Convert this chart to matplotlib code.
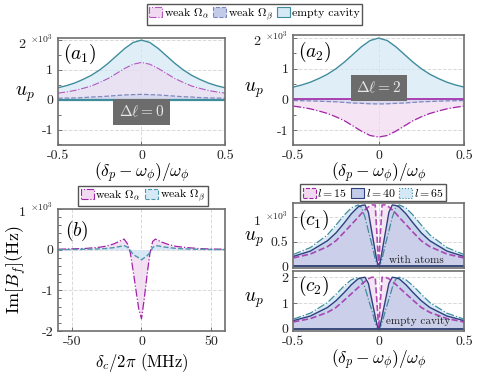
import matplotlib
matplotlib.use('Agg')
import matplotlib.pyplot as plt
from matplotlib.patches import Patch
from matplotlib.ticker import MultipleLocator

plt.rcParams['font.family'] = ['cmr10']
plt.rcParams['mathtext.fontset'] = 'cm'
plt.rcParams['axes.unicode_minus'] = False
plt.rcParams['axes.formatter.use_mathtext'] = True

# ---- data (units of 10^3) ----
x_a = [-0.5, -0.45, -0.4, -0.35, -0.3, -0.25, -0.2, -0.15, -0.1, -0.05, 0,
       0.05, 0.1, 0.15, 0.2, 0.25, 0.3, 0.35, 0.4, 0.45, 0.5]
empty_a = [0.40, 0.47, 0.56, 0.68, 0.82, 1.00, 1.22, 1.47, 1.72, 1.92, 2.00,
           1.92, 1.72, 1.47, 1.22, 1.00, 0.82, 0.68, 0.56, 0.47, 0.40]
alpha_a1 = [0.22, 0.26, 0.31, 0.38, 0.46, 0.58, 0.71, 0.88, 1.05, 1.19, 1.25,
            1.19, 1.05, 0.88, 0.71, 0.58, 0.46, 0.38, 0.31, 0.26, 0.22]
beta_a1 = [0.05, 0.055, 0.06, 0.07, 0.09, 0.10, 0.12, 0.14, 0.16, 0.17, 0.18,
           0.17, 0.16, 0.14, 0.12, 0.10, 0.09, 0.07, 0.06, 0.055, 0.05]
alpha_a2 = [-0.22, -0.26, -0.31, -0.38, -0.46, -0.57, -0.70, -0.87, -1.04, -1.18, -1.23,
            -1.18, -1.04, -0.87, -0.70, -0.57, -0.46, -0.38, -0.31, -0.26, -0.22]
beta_a2 = [-0.04, -0.045, -0.05, -0.06, -0.07, -0.08, -0.10, -0.12, -0.13, -0.145, -0.15,
           -0.145, -0.13, -0.12, -0.10, -0.08, -0.07, -0.06, -0.05, -0.045, -0.04]

x_b = [-60, -50, -40, -30, -25, -20, -15, -12.5, -10, -8, -6, -4, -2, 0,
       2, 4, 6, 8, 10, 12.5, 15, 20, 25, 30, 40, 50, 60]
alpha_b = [0.01, 0.02, 0.03, 0.06, 0.09, 0.14, 0.22, 0.26, 0.14, -0.08, -0.52, -0.99, -1.45, -1.70,
           -1.20, -0.62, -0.10, 0.20, 0.26, 0.22, 0.18, 0.12, 0.08, 0.06, 0.03, 0.015, 0.01]
beta_b = [0.0, 0.005, 0.01, 0.02, 0.03, 0.05, 0.08, 0.10, 0.06, -0.02, -0.12, -0.16, -0.20, -0.25,
          -0.20, -0.15, -0.08, 0.05, 0.10, 0.09, 0.07, 0.05, 0.03, 0.02, 0.01, 0.005, 0.0]

x_c = [-0.5, -0.4, -0.3, -0.25, -0.2, -0.16, -0.12, -0.1, -0.08, -0.06, -0.04, -0.02, -0.01, 0,
       0.01, 0.02, 0.04, 0.06, 0.08, 0.1, 0.12, 0.16, 0.2, 0.25, 0.3, 0.4, 0.5]
l65_c1 = [0.24, 0.38, 0.64, 0.84, 1.05, 1.19, 1.25, 1.20, 1.00, 0.72, 0.45, 0.15, 0.05, 0.0,
          0.05, 0.15, 0.45, 0.72, 1.00, 1.20, 1.25, 1.19, 1.05, 0.84, 0.64, 0.38, 0.24]
l40_c1 = [0.20, 0.31, 0.52, 0.68, 0.89, 1.07, 1.21, 1.24, 1.25, 1.10, 0.70, 0.30, 0.10, 0.0,
          0.10, 0.30, 0.70, 1.10, 1.25, 1.24, 1.21, 1.07, 0.89, 0.68, 0.52, 0.31, 0.20]
l15_c1 = [0.17, 0.25, 0.40, 0.52, 0.70, 0.85, 1.00, 1.08, 1.15, 1.21, 1.25, 1.25, 0.65, 0.0,
          0.65, 1.25, 1.25, 1.21, 1.15, 1.08, 1.00, 0.85, 0.70, 0.52, 0.40, 0.25, 0.17]
l65_c2 = [0.38, 0.61, 1.02, 1.34, 1.68, 1.90, 2.00, 1.92, 1.60, 1.15, 0.72, 0.24, 0.08, 0.0,
          0.08, 0.24, 0.72, 1.15, 1.60, 1.92, 2.00, 1.90, 1.68, 1.34, 1.02, 0.61, 0.38]
l40_c2 = [0.32, 0.50, 0.83, 1.09, 1.42, 1.71, 1.94, 1.98, 2.00, 1.76, 1.12, 0.48, 0.16, 0.0,
          0.16, 0.48, 1.12, 1.76, 2.00, 1.98, 1.94, 1.71, 1.42, 1.09, 0.83, 0.50, 0.32]
l15_c2 = [0.27, 0.40, 0.64, 0.83, 1.12, 1.36, 1.60, 1.73, 1.84, 1.94, 2.00, 2.00, 1.04, 0.0,
          1.04, 2.00, 2.00, 1.94, 1.84, 1.73, 1.60, 1.36, 1.12, 0.83, 0.64, 0.40, 0.27]

# colours
teal = '#3f8c9c'
purple_a = '#b556c0'
purple = '#a024a6'
slate = '#7c89bf'
navy = '#2f3f7f'
fill_blue = '#d4e8f6'
fill_pink = '#f1d9f0'
fill_slate = '#c2cbe8'
frame = '#6e6e6e'

sci = r' $^{\times10^3}$'

fig = plt.figure(figsize=(4.78, 3.72), dpi=100)


def style(ax):
    for s in ax.spines.values():
        s.set_color(frame)
        s.set_linewidth(1.2)
    ax.tick_params(which='both', direction='in', colors=frame, labelcolor='#222222',
                   labelsize=10, width=0.7)
    ax.tick_params(which='major', length=3)
    ax.tick_params(which='minor', length=1.8)
    ax.grid(True, which='major', ls='--', color='#d9d9d9', lw=0.7)
    ax.set_axisbelow(True)


xlab = r'$(\delta_p-\omega_\phi)/\omega_\phi$'

# ---- (a1) ----
ax1 = fig.add_axes([0.1213, 0.6102, 0.3494, 0.2876])
style(ax1)
ax1.fill_between(x_a, empty_a, 0, color=fill_blue, alpha=0.7, lw=0)
ax1.fill_between(x_a, alpha_a1, 0, color=fill_pink, alpha=0.55, lw=0)
ax1.fill_between(x_a, beta_a1, 0, color=fill_slate, alpha=0.45, lw=0)
ax1.plot(x_a, alpha_a1, color=purple_a, ls='-.', lw=0.8)
ax1.plot(x_a, beta_a1, color=slate, ls='--', lw=0.9)
ax1.plot(x_a, empty_a, color=teal, lw=1.0)
ax1.axhline(0, color=teal, lw=1.6)
ax1.set_xlim(-0.5, 0.5)
ax1.set_ylim(-1.52, 2.07)
ax1.set_xticks([-0.5, 0, 0.5])
ax1.set_xticklabels(['-0.5', '0', '0.5'])
ax1.set_yticks([-1, 0, 1, 2])
ax1.set_yticklabels(['-1', '0', '1', '2' + sci])
ax1.yaxis.set_minor_locator(MultipleLocator(0.5))
ax1.set_ylabel(r'$u_p$', fontsize=14, rotation=0, va='center')
ax1.yaxis.set_label_coords(-0.2, 0.47)
ax1.set_xlabel(xlab, fontsize=12.5)
ax1.xaxis.set_label_coords(0.5, -0.15)
ax1.text(0.03, 0.96, r'$(a_1)$', transform=ax1.transAxes, fontsize=14, va='top', ha='left')
ax1.text(0.0, -0.4, r'$\Delta\ell=0$', fontsize=11, color='#e8e8e8', ha='center', va='center',
         bbox=dict(boxstyle='square,pad=0.35', fc='#6c6c6c', ec='none'))

# ---- (a2) ----
ax2 = fig.add_axes([0.6136, 0.6102, 0.3571, 0.2957])
style(ax2)
ax2.fill_between(x_a, empty_a, 0, color=fill_blue, alpha=0.7, lw=0)
ax2.fill_between(x_a, alpha_a2, 0, color=fill_pink, alpha=0.7, lw=0)
ax2.fill_between(x_a, beta_a2, 0, color=fill_slate, alpha=0.45, lw=0)
ax2.plot(x_a, empty_a, color=teal, lw=1.0)
ax2.plot(x_a, beta_a2, color=slate, ls='--', lw=0.9)
ax2.plot(x_a, alpha_a2, color=purple, ls='-.', lw=0.9)
ax2.axhline(0, color=purple, lw=1.2)
ax2.set_xlim(-0.5, 0.5)
ax2.set_ylim(-1.49, 2.1)
ax2.set_xticks([-0.5, 0, 0.5])
ax2.set_xticklabels(['-0.5', '0', '0.5'])
ax2.set_yticks([-1, 0, 1, 2])
ax2.set_yticklabels(['-1', '0', '1', '2' + sci])
ax2.yaxis.set_minor_locator(MultipleLocator(0.5))
ax2.set_ylabel(r'$u_p$', fontsize=14, rotation=0, va='center')
ax2.yaxis.set_label_coords(-0.23, 0.5)
ax2.set_xlabel(xlab, fontsize=12.5)
ax2.xaxis.set_label_coords(0.5, -0.148)
ax2.text(0.03, 0.96, r'$(a_2)$', transform=ax2.transAxes, fontsize=14, va='top', ha='left')
ax2.text(0.0, 0.37, r'$\Delta\ell=2$', fontsize=11, color='#e8e8e8', ha='center', va='center',
         bbox=dict(boxstyle='square,pad=0.35', fc='#6c6c6c', ec='none'))

# ---- (b) ----
axb = fig.add_axes([0.1213, 0.1102, 0.3494, 0.328])
style(axb)
axb.fill_between(x_b, alpha_b, 0, color=fill_pink, alpha=0.8, lw=0)
axb.fill_between(x_b, beta_b, 0, color=fill_blue, alpha=0.9, lw=0)
axb.plot(x_b, alpha_b, color=purple, ls='-.', lw=0.9)
axb.plot(x_b, beta_b, color='#4a98ac', ls='--', lw=1.0)
axb.set_xlim(-60, 60)
axb.set_ylim(-2, 1)
axb.set_xticks([-50, 0, 50])
axb.set_xticklabels(['-50', '0', '50'])
axb.set_yticks([-2, -1, 0, 1])
axb.set_yticklabels(['-2', '-1', '0', '1' + sci])
axb.yaxis.set_minor_locator(MultipleLocator(0.2))
axb.set_ylabel(r'$\mathrm{Im}[B_f](\mathrm{Hz})$', fontsize=13)
axb.yaxis.set_label_coords(-0.18, 0.5)
axb.set_xlabel(r'$\delta_c/2\pi$ (MHz)', fontsize=12)
axb.xaxis.set_label_coords(0.5, -0.16)
axb.text(0.04, 0.92, r'$(b)$', transform=axb.transAxes, fontsize=14, va='top', ha='left')

# ---- (c1) / (c2) ----
axc1 = fig.add_axes([0.6136, 0.2796, 0.3571, 0.1747])
axc2 = fig.add_axes([0.6136, 0.1102, 0.3571, 0.1605])
for ax, l15, l40, l65 in [(axc1, l15_c1, l40_c1, l65_c1), (axc2, l15_c2, l40_c2, l65_c2)]:
    style(ax)
    ax.fill_between(x_c, l65, 0, color=fill_blue, alpha=0.9, lw=0)
    ax.fill_between(x_c, l15, 0, color=fill_pink, alpha=0.7, lw=0)
    ax.fill_between(x_c, l40, 0, color=fill_slate, alpha=0.75, lw=0)
    ax.plot(x_c, l65, color=teal, ls='-.', lw=0.9)
    ax.plot(x_c, l40, color=navy, lw=1.0)
    ax.plot(x_c, l15, color=purple, ls='--', lw=1.2, alpha=0.8)
    ax.axhline(0, color='#3a4a7a', lw=1.4)
    ax.set_xlim(-0.5, 0.5)
    ax.set_xticks([-0.5, 0, 0.5])
    ax.set_ylabel(r'$u_p$', fontsize=14, rotation=0, va='center')

axc1.set_ylim(-0.035, 1.29)
axc1.set_yticks([0, 0.5, 1])
axc1.set_yticklabels(['0', '0.5', '1' + sci])
axc1.set_xticklabels([])
axc1.yaxis.set_label_coords(-0.23, 0.44)
axc1.text(0.03, 0.92, r'$(c_1)$', transform=axc1.transAxes, fontsize=14, va='top', ha='left')
axc1.text(0.22, 0.03, 'with atoms', fontsize=8, ha='center', va='bottom', color='#222222')

axc2.set_ylim(-0.08, 2.23)
axc2.set_yticks([0, 1, 2])
axc2.set_yticklabels(['0', '1', '2'])
axc2.set_xticklabels(['-0.5', '0', '0.5'])
axc2.yaxis.set_label_coords(-0.23, 0.52)
axc2.text(0.03, 0.95, r'$(c_2)$', transform=axc2.transAxes, fontsize=14, va='top', ha='left')
axc2.text(0.23, 0.3, 'empty cavity', fontsize=8, ha='center', va='center', color='#222222')
axc2.set_xlabel(xlab, fontsize=12.5)
axc2.xaxis.set_label_coords(0.5, -0.29)

# ---- legends ----
leg_kw = dict(ncol=3, fontsize=8.5, frameon=True, fancybox=False, framealpha=1,
              edgecolor='#555555', handlelength=1.1, handleheight=0.9, handletextpad=0.15,
              columnspacing=0.3, borderpad=0.2, borderaxespad=0)

h_top = [Patch(fc=fill_pink, ec=purple_a, ls='-.', lw=0.8, label=r'weak $\Omega_\alpha$'),
         Patch(fc=fill_slate, ec=slate, ls='--', lw=0.8, label=r'weak $\Omega_\beta$'),
         Patch(fc=fill_blue, ec=teal, lw=0.8, label='empty cavity')]
lg = fig.legend(handles=h_top, loc='center', bbox_to_anchor=(0.532, 0.961), **leg_kw)
lg.get_frame().set_linewidth(1.0)

h_b = [Patch(fc=fill_pink, ec=purple, ls='-.', lw=0.8, label=r'weak $\Omega_\alpha$'),
       Patch(fc=fill_blue, ec='#4a98ac', ls='--', lw=0.8, label=r'weak $\Omega_\beta$')]
lg = fig.legend(handles=h_b, loc='center', bbox_to_anchor=(0.299, 0.473), **leg_kw)
lg.get_frame().set_linewidth(1.0)

h_c = [Patch(fc=fill_pink, ec=purple, ls='--', lw=0.8, label=r'$l=15$'),
       Patch(fc=fill_slate, ec=navy, lw=0.8, label=r'$l=40$'),
       Patch(fc=fill_blue, ec=teal, ls=':', lw=0.8, label=r'$l=65$')]
lg = fig.legend(handles=h_c, loc='center', bbox_to_anchor=(0.781, 0.482), **leg_kw)
lg.get_frame().set_linewidth(1.0)

plt.savefig('out.png', dpi=100)
